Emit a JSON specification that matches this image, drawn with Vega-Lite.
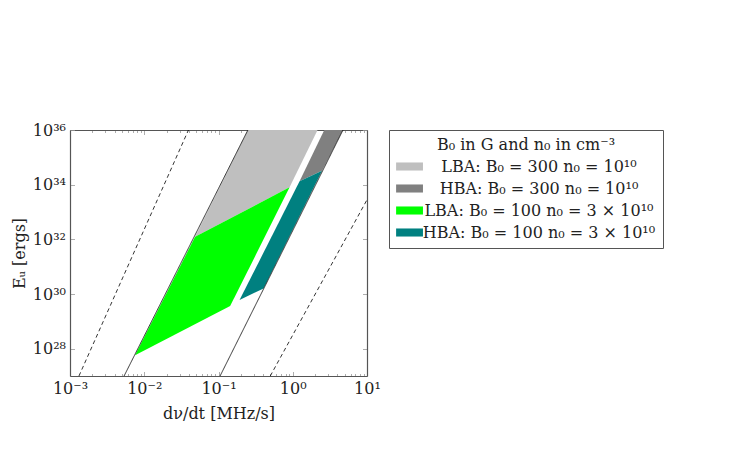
{
  "$schema": "https://vega.github.io/schema/vega-lite/v6.json",
  "width": 297,
  "height": 246,
  "autosize": "none",
  "padding": {"left": 70, "top": 130, "right": 385, "bottom": 87},
  "background": "white",
  "config": {
    "view": {"stroke": null},
    "font": "DejaVu Serif"
  },
  "datasets": {
    "poly": [
      {"s": "LBA: B₀ = 300 n₀ = 10¹⁰", "i": 1, "x": 0.0484, "y": 1.24e32},
      {"s": "LBA: B₀ = 300 n₀ = 10¹⁰", "i": 2, "x": 0.249, "y": 1e36},
      {"s": "LBA: B₀ = 300 n₀ = 10¹⁰", "i": 3, "x": 2.16, "y": 1e36},
      {"s": "LBA: B₀ = 300 n₀ = 10¹⁰", "i": 4, "x": 0.906, "y": 8.0e33},
      {"s": "HBA: B₀ = 300 n₀ = 10¹⁰", "i": 1, "x": 1.235, "y": 1.33e34},
      {"s": "HBA: B₀ = 300 n₀ = 10¹⁰", "i": 2, "x": 2.66, "y": 1e36},
      {"s": "HBA: B₀ = 300 n₀ = 10¹⁰", "i": 3, "x": 4.75, "y": 1e36},
      {"s": "HBA: B₀ = 300 n₀ = 10¹⁰", "i": 4, "x": 2.48, "y": 3.26e34},
      {"s": "LBA: B₀ = 100 n₀ = 3 × 10¹⁰", "i": 1, "x": 0.00752, "y": 5.71e27},
      {"s": "LBA: B₀ = 100 n₀ = 3 × 10¹⁰", "i": 2, "x": 0.0484, "y": 1.24e32},
      {"s": "LBA: B₀ = 100 n₀ = 3 × 10¹⁰", "i": 3, "x": 0.906, "y": 8.0e33},
      {"s": "LBA: B₀ = 100 n₀ = 3 × 10¹⁰", "i": 4, "x": 0.1435, "y": 3.61e29},
      {"s": "HBA: B₀ = 100 n₀ = 3 × 10¹⁰", "i": 1, "x": 0.192, "y": 5.97e29},
      {"s": "HBA: B₀ = 100 n₀ = 3 × 10¹⁰", "i": 2, "x": 1.235, "y": 1.33e34},
      {"s": "HBA: B₀ = 100 n₀ = 3 × 10¹⁰", "i": 3, "x": 2.48, "y": 3.26e34},
      {"s": "HBA: B₀ = 100 n₀ = 3 × 10¹⁰", "i": 4, "x": 0.404, "y": 1.6e30}
    ],
    "lines": [
      {"name": "solid1", "dash": "solid", "x": 0.00535, "y": 1e27, "x2": 0.249, "y2": 1e36},
      {"name": "solid2", "dash": "solid", "x": 0.105, "y": 1e27, "x2": 4.75, "y2": 1e36},
      {"name": "dashed1", "dash": "dashed", "x": 0.00132, "y": 1e27, "x2": 0.0394, "y2": 1e36},
      {"name": "dashed2", "dash": "dashed", "x": 0.498, "y": 1e27, "x2": 10, "y2": 2.8e33}
    ]
  },
  "layer": [
    {
      "data": {"name": "poly"},
      "mark": {"type": "line", "interpolate": "linear-closed", "strokeWidth": 0, "fillOpacity": 1},
      "encoding": {
        "x": {
          "field": "x", "type": "quantitative",
          "scale": {"type": "log", "domain": [0.001, 10], "nice": false},
          "axis": {
            "orient": "bottom",
            "title": "dν/dt [MHz/s]",
            "titleFont": "DejaVu Serif", "titleFontSize": 16, "titleFontWeight": "normal", "titleColor": "#222",
            "titlePadding": 7,
            "values": [0.001,0.002,0.003,0.004,0.005,0.006,0.007,0.008,0.009,0.01,0.02,0.03,0.04,0.05,0.06,0.07,0.08,0.09,0.1,0.2,0.3,0.4,0.5,0.6,0.7,0.8,0.9,1,2,3,4,5,6,7,8,9,10],
            "labelExpr": "abs(log(datum.value)/LN10 - round(log(datum.value)/LN10)) > 0.001 ? '' : (round(log(datum.value)/LN10) == -3 ? '10⁻³' : round(log(datum.value)/LN10) == -2 ? '10⁻²' : round(log(datum.value)/LN10) == -1 ? '10⁻¹' : round(log(datum.value)/LN10) == 0 ? '10⁰' : '10¹')",
            "labelFont": "DejaVu Serif", "labelFontSize": 16, "labelColor": "#222",
            "labelPadding": 9, "labelFlush": false, "labelOverlap": false,
            "tickSize": {"condition": {"test": "abs(log(datum.value)/LN10 - round(log(datum.value)/LN10)) > 0.001", "value": -2.5}, "value": -4.5},
            "tickColor": "#999", "tickWidth": 0.8,
            "domainColor": "#555", "domainWidth": 1.2,
            "grid": false
          }
        },
        "y": {
          "field": "y", "type": "quantitative",
          "scale": {"type": "log", "domain": [1e27, 1e36], "nice": false},
          "axis": {
            "orient": "left",
            "title": "Eᵤ [ergs]",
            "titleFont": "DejaVu Serif", "titleFontSize": 16, "titleFontWeight": "normal", "titleColor": "#222",
            "titlePadding": 5,
            "values": [1e28, 1e30, 1e32, 1e34, 1e36],
            "labelExpr": "round(log(datum.value)/LN10) == 28 ? '10²⁸' : round(log(datum.value)/LN10) == 30 ? '10³⁰' : round(log(datum.value)/LN10) == 32 ? '10³²' : round(log(datum.value)/LN10) == 34 ? '10³⁴' : '10³⁶'",
            "labelFont": "DejaVu Serif", "labelFontSize": 16, "labelColor": "#222",
            "labelPadding": 9, "labelFlush": false, "labelOverlap": false,
            "tickSize": -4.5, "tickColor": "#999", "tickWidth": 0.8,
            "domainColor": "#555", "domainWidth": 1.2,
            "grid": false
          }
        },
        "order": {"field": "i", "type": "quantitative"},
        "detail": {"field": "s"},
        "fill": {
          "field": "s", "type": "nominal",
          "scale": {
            "domain": ["LBA: B₀ = 300 n₀ = 10¹⁰", "HBA: B₀ = 300 n₀ = 10¹⁰", "LBA: B₀ = 100 n₀ = 3 × 10¹⁰", "HBA: B₀ = 100 n₀ = 3 × 10¹⁰"],
            "range": ["#bfbfbf", "#808080", "#00ff00", "#008080"]
          },
          "legend": {
            "orient": "none",
            "legendX": 319,
            "legendY": 0,
            "title": "B₀ in G and n₀ in cm⁻³",
            "titleFont": "DejaVu Serif", "titleFontSize": 16, "titleFontWeight": "normal", "titleColor": "#222",
            "titleAnchor": "middle", "titlePadding": 5,
            "labelFont": "DejaVu Serif", "labelFontSize": 16, "labelColor": "#222",
            "labelLimit": 400,
            "labelAlign": "center",
            "labelOffset": 126,
            "symbolType": "M-1,-0.48H2.2V0.48H-1Z",
            "symbolSize": 282,
            "symbolStrokeWidth": 0,
            "rowPadding": 5,
            "padding": 7,
            "strokeColor": "#555",
            "fillColor": "white"
          }
        }
      }
    },
    {
      "data": {"name": "lines"},
      "mark": {"type": "rule", "color": "black", "strokeWidth": 0.8},
      "encoding": {
        "x": {"field": "x", "type": "quantitative", "axis": {"orient": "top", "title": null, "labels": false, "values": [0.001,0.002,0.003,0.004,0.005,0.006,0.007,0.008,0.009,0.01,0.02,0.03,0.04,0.05,0.06,0.07,0.08,0.09,0.1,0.2,0.3,0.4,0.5,0.6,0.7,0.8,0.9,1,2,3,4,5,6,7,8,9,10], "tickSize": {"condition": {"test": "abs(log(datum.value)/LN10 - round(log(datum.value)/LN10)) > 0.001", "value": -2.5}, "value": -4.5}, "tickColor": "#999", "tickWidth": 0.8, "domainColor": "#555", "domainWidth": 1.2, "grid": false}},
        "y": {"field": "y", "type": "quantitative", "axis": {"orient": "right", "title": null, "labels": false, "values": [1e28, 1e30, 1e32, 1e34, 1e36], "tickSize": -4.5, "tickColor": "#999", "tickWidth": 0.8, "domainColor": "#555", "domainWidth": 1.2, "grid": false}},
        "x2": {"field": "x2"},
        "y2": {"field": "y2"},
        "strokeDash": {
          "field": "dash", "type": "nominal",
          "scale": {"domain": ["solid", "dashed"], "range": [[1, 0], [4, 3]]},
          "legend": null
        }
      }
    }
  ]
}
